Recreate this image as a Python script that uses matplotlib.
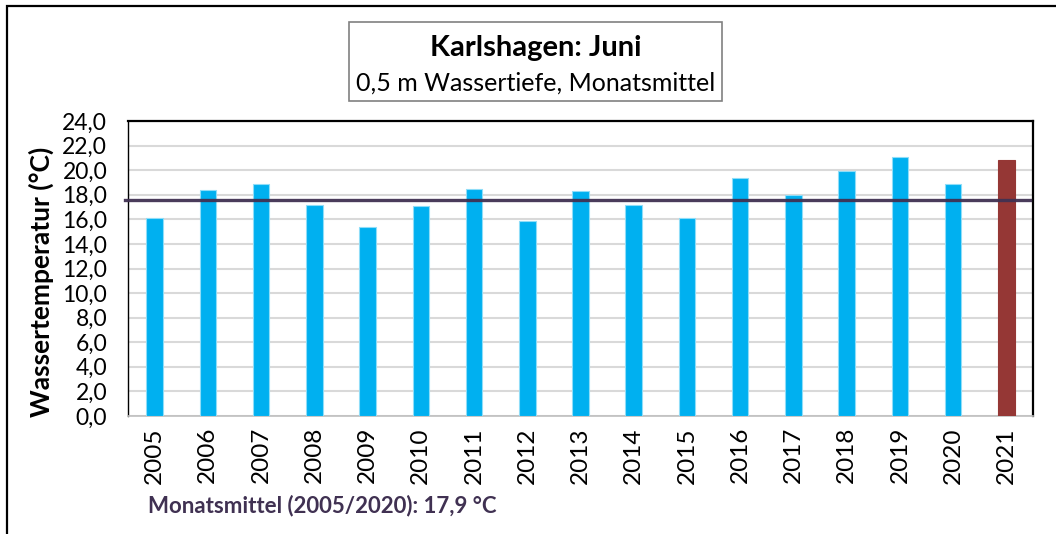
import matplotlib.pyplot as plt
from matplotlib.patches import Rectangle

plt.rcParams['font.family'] = ['Lato', 'DejaVu Sans']

years = ['2005', '2006', '2007', '2008', '2009', '2010', '2011', '2012', '2013',
         '2014', '2015', '2016', '2017', '2018', '2019', '2020', '2021']
temps = [16.1, 18.4, 18.9, 17.2, 15.4, 17.1, 18.5, 15.9, 18.3,
         17.2, 16.1, 19.4, 18.0, 19.9, 21.1, 18.9, 20.8]
mean_line = 17.6
yticks = [0, 2, 4, 6, 8, 10, 12, 14, 16, 18, 20, 22, 24]

W, H = 1056, 534
fig = plt.figure(figsize=(W / 100, H / 100), dpi=100)
ax = fig.add_axes([128 / W, 1 - 416 / H, (1033 - 128) / W, (416 - 121) / H])

colors = ['#00B0F0'] * (len(years) - 1) + ['#953735']
edges = ['#8FDDF8'] * (len(years) - 1) + ['#953735']
x = list(range(len(years)))
ax.bar(x, temps, width=0.31, color=colors, edgecolor=edges, linewidth=0.8, zorder=3)
ax.plot([-0.56, 16.45], [mean_line, mean_line], color='#403152', lw=2.4,
        zorder=4, clip_on=False, alpha=0.95)

ax.set_xlim(-0.5, 16.5)
ax.set_ylim(0, 24)
ax.set_yticks(yticks)
ax.set_yticklabels([f'{v:.1f}'.replace('.', ',') for v in yticks], fontsize=16.5)
ax.set_xticks(x)
ax.set_xticklabels(years, rotation=90, fontsize=17.5)
ax.tick_params(length=0)
ax.tick_params(axis='y', pad=15)
ax.tick_params(axis='x', pad=8)
ax.grid(axis='y', color='#D9D9D9', lw=1.5, zorder=0)
ax.set_axisbelow(True)
for s in ['left', 'top', 'right']:
    ax.spines[s].set_color('black')
    ax.spines[s].set_linewidth(1.6)
ax.spines['left'].set_linewidth(1.0)
ax.spines['bottom'].set_color('#BFBFBF')
ax.spines['bottom'].set_linewidth(1.2)

fig.text(41 / W, 1 - 282 / H, 'Wassertemperatur (°C)', rotation=90, ha='center',
         va='center', fontsize=19, fontweight='bold')

# Titelbox
fig.patches.append(Rectangle((349 / W, 1 - 101 / H), (722 - 349) / W, (101 - 22) / H,
                             transform=fig.transFigure, fill=False,
                             edgecolor='#808080', lw=1.2))
fig.text(536 / W, 1 - 48 / H, 'Karlshagen: Juni', ha='center', va='center',
         fontsize=21, fontweight='bold')
fig.text(536 / W, 1 - 83 / H, '0,5 m Wassertiefe, Monatsmittel', ha='center',
         va='center', fontsize=18)

fig.text(148 / W, 1 - 506 / H, 'Monatsmittel (2005/2020): 17,9 °C', ha='left',
         va='center', fontsize=16, fontweight='bold', color='#403152')

# Außenrahmen
fig.patches.append(Rectangle((7 / W, -0.1), 1.2, 1 - 6 / H + 0.1,
                             transform=fig.transFigure, fill=False,
                             edgecolor='black', lw=1.6))

fig.savefig('out.png', dpi=100)
